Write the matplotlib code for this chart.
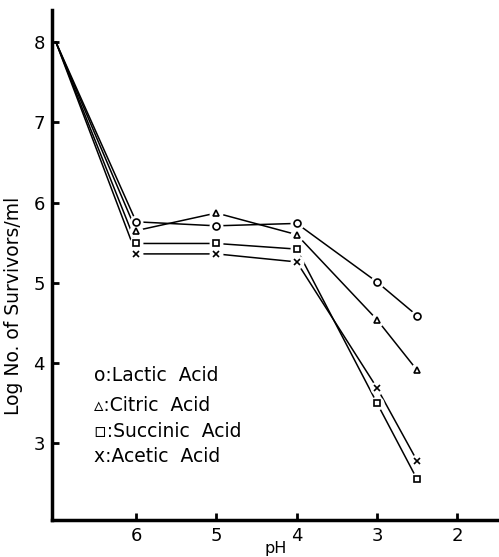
import matplotlib
matplotlib.use("Agg")
import matplotlib.pyplot as plt

# pH values (x axis runs from high to low)
ph = [7.0, 6.0, 5.0, 4.0, 3.0, 2.5]

# log survivors / ml
lactic = [8.0, 5.76, 5.71, 5.74, 5.01, 4.59]
citric = [8.0, 5.65, 5.87, 5.60, 4.54, 3.91]
succinic = [8.0, 5.49, 5.49, 5.42, 3.50, 2.55]
acetic = [8.0, 5.36, 5.36, 5.26, 3.69, 2.78]

series = [
    ("Lactic  Acid", lactic, "o", "o"),
    ("Citric  Acid", citric, "^", "▵"),
    ("Succinic  Acid", succinic, "s", "▫"),
    ("Acetic  Acid", acetic, "x", "x"),
]

plt.rcParams["font.family"] = ["DejaVu Sans"]

fig = plt.figure(figsize=(4.99, 5.57), dpi=100)
ax = fig.add_axes([0.104, 0.066, 0.896, 0.916])

for name, vals, mk, sym in series:
    ax.plot(ph, vals, color="black", lw=1.1, zorder=2)
    # white halo so the line stops short of the marker, like the drawing
    ax.plot(ph[1:], vals[1:], ls="none", marker="o", ms=9, mfc="white",
            mec="white", zorder=3)
    ax.plot(ph[1:], vals[1:], ls="none", marker=mk, ms=5, mfc="white",
            mec="black", mew=1.2, zorder=4)

# legend written as text inside the plot
leg_y = [3.85, 3.47, 3.15, 2.84]
for (name, vals, mk, sym), y in zip(series, leg_y):
    ax.text(6.52, y, sym + ":" + name, fontsize=13.5, va="center", ha="left")

ax.set_xlim(7.05, 1.48)
ax.set_ylim(2.04, 8.4)
ax.set_xticks([6, 5, 4, 3, 2])
ax.set_yticks([3, 4, 5, 6, 7, 8])
ax.tick_params(direction="in", length=5, width=2, labelsize=13, pad=5)
ax.spines["top"].set_visible(False)
ax.spines["right"].set_visible(False)
ax.spines["left"].set_linewidth(2.5)
ax.spines["bottom"].set_linewidth(2.5)
ax.set_xlabel("pH", fontsize=11.5, labelpad=-3)
ax.set_ylabel("Log No. of Survivors/ml", fontsize=13.5)
ax.yaxis.set_label_coords(-0.064, 0.42)

fig.savefig("out.png", dpi=100)
